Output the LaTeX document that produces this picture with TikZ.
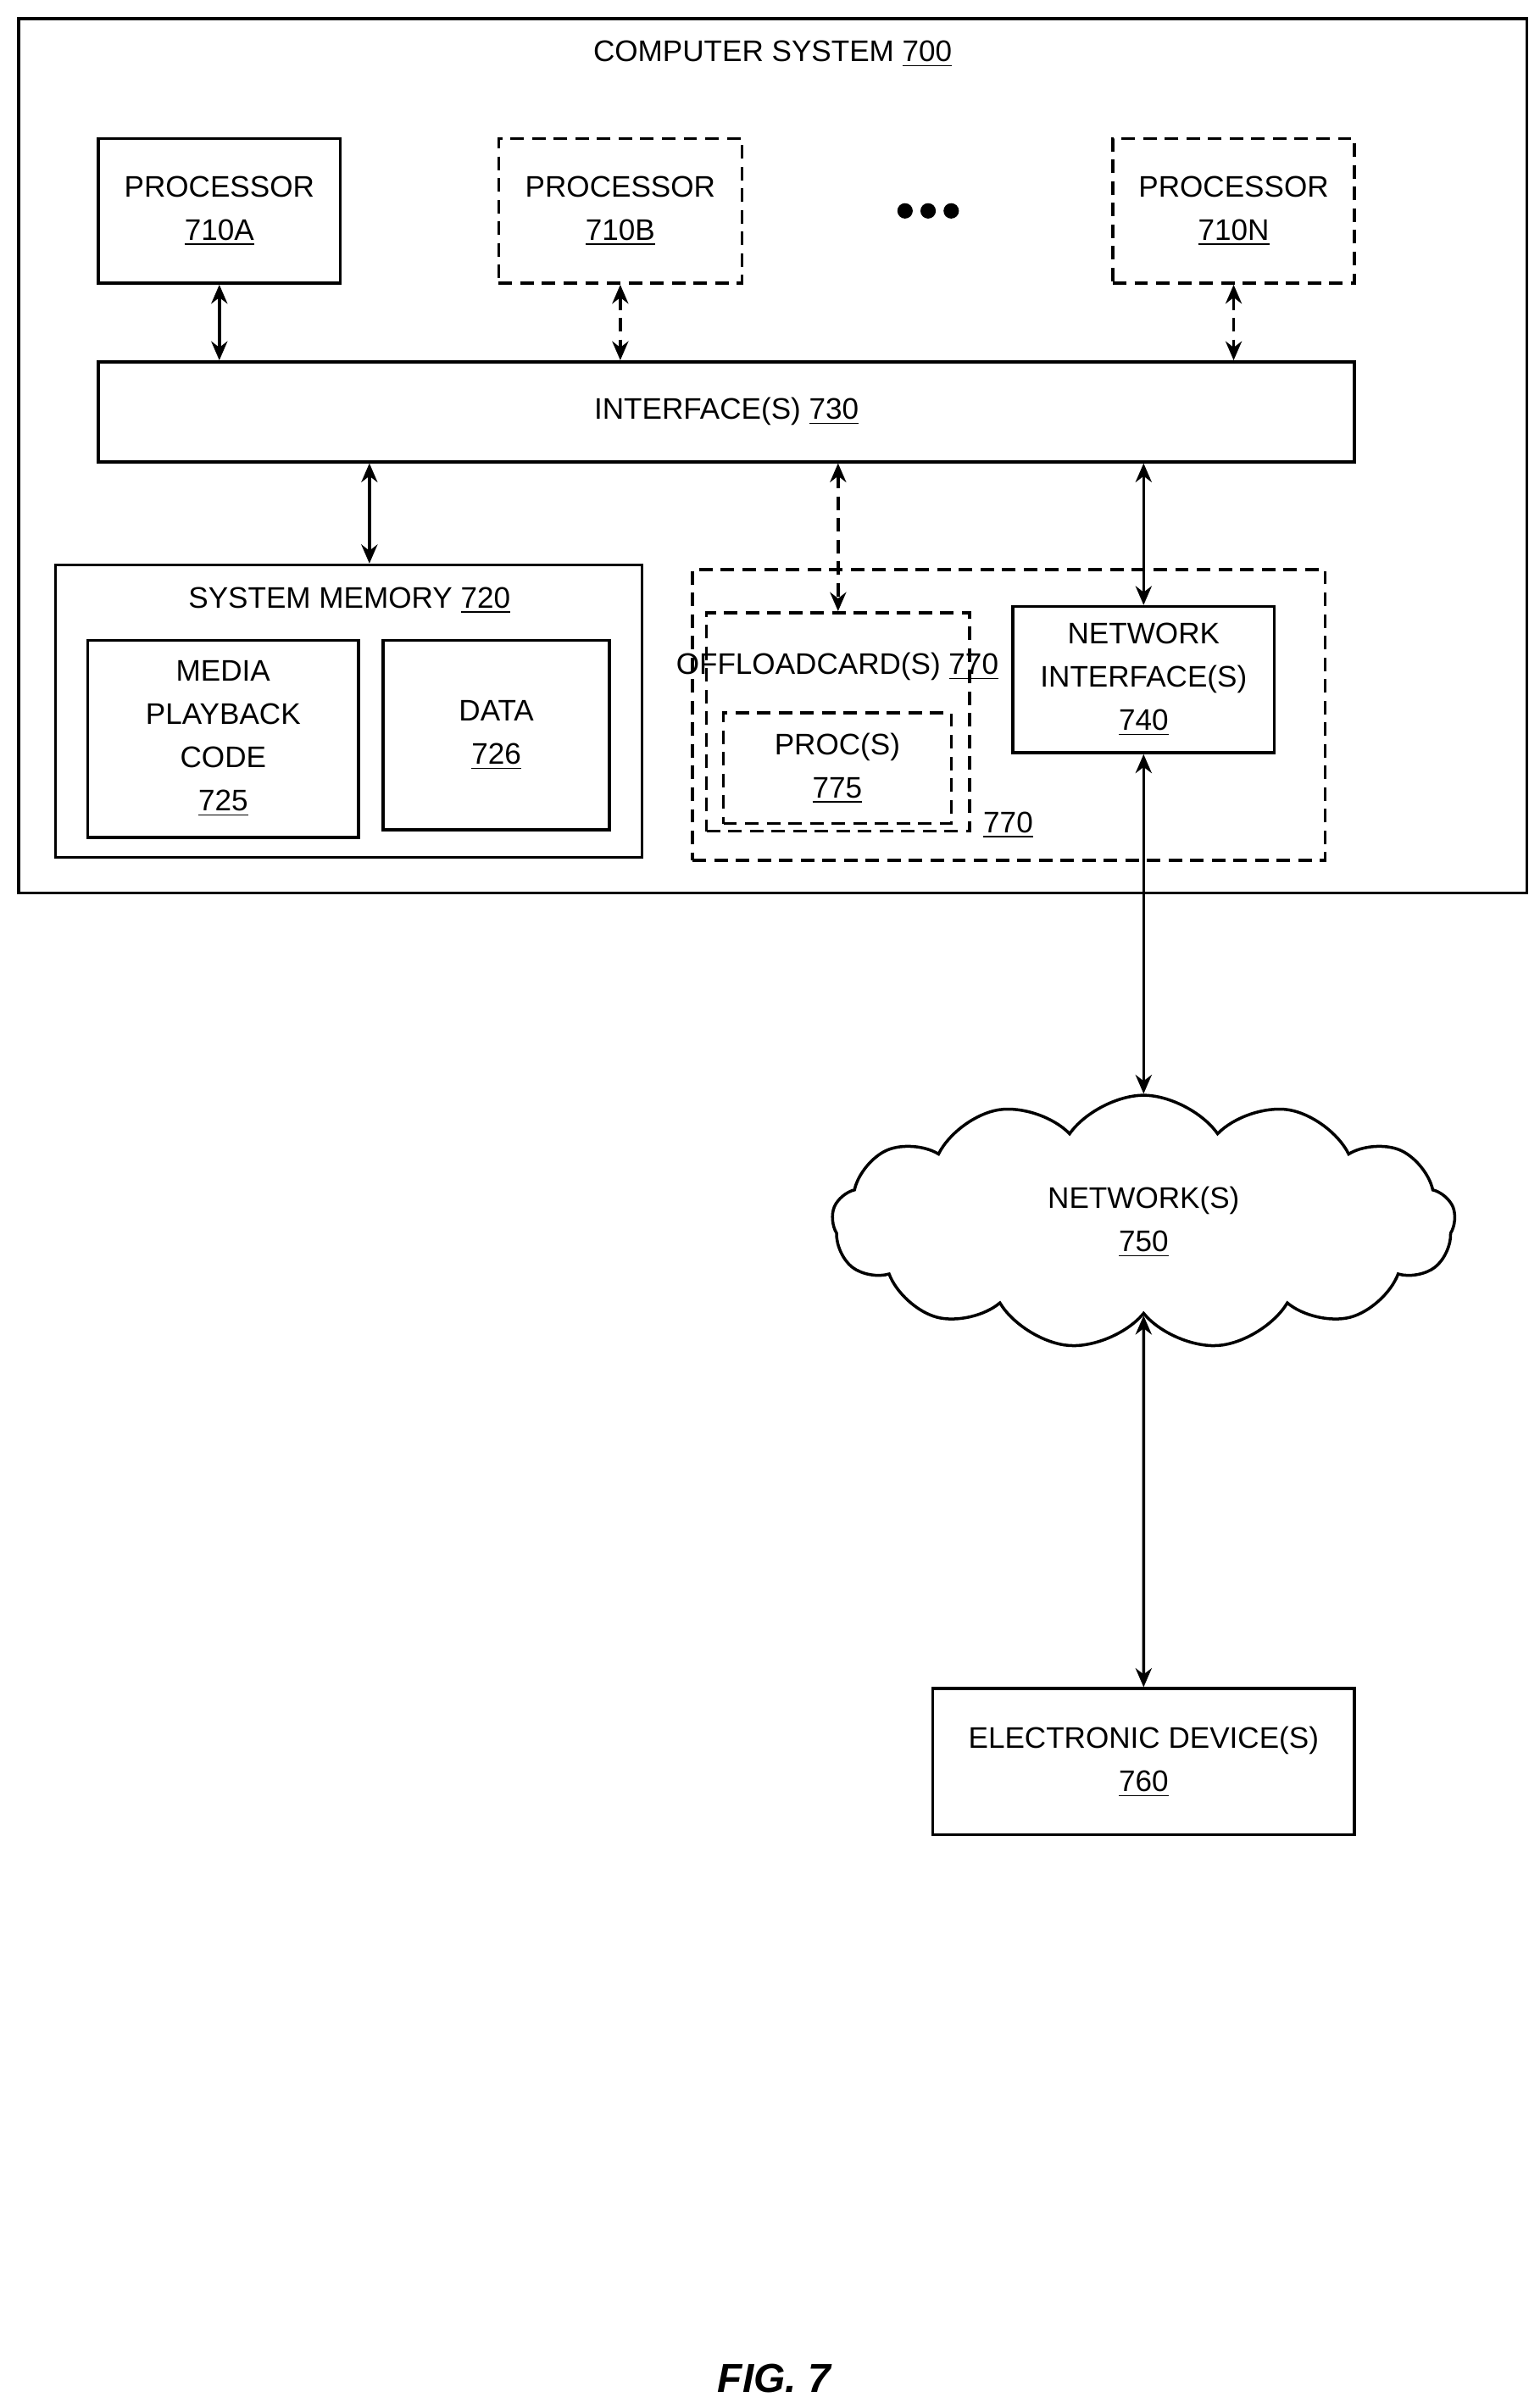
\documentclass[tikz,border=0pt]{standalone}
\usepackage{fontspec}
\setmainfont{Liberation Sans}
\usetikzlibrary{shapes.symbols,arrows.meta}
\begin{document}
\begin{tikzpicture}[x=0.02cm,y=-0.02cm,
  font=\fontsize{11}{16}\selectfont,
  bx/.style 2 args={draw,line width=1.1pt,minimum width=#1*0.02cm,minimum height=#2*0.02cm,inner sep=0pt,align=center},
  dbx/.style 2 args={bx={#1}{#2},dashed,dash pattern=on 5pt off 3pt},
  arr/.style={line width=1.1pt,{Stealth[length=7pt,width=6pt]}-{Stealth[length=7pt,width=6pt]}},
  darr/.style={arr,dash pattern=on 5pt off 3pt}]
\useasboundingbox (0,0) rectangle (1000,1561.1);
\node[bx={980}{568}] (cs) at (502,296) {};
\node (cst) at (502,35) {COMPUTER SYSTEM \underline{700}};
\node[bx={157}{94}] (pA) at (142.5,137) {PROCESSOR\\\underline{710A}};
\node[dbx={158}{94}] (pB) at (403,137) {PROCESSOR\\\underline{710B}};
\node[dbx={157}{94}] (pN) at (801.5,137) {PROCESSOR\\\underline{710N}};
\foreach \x/\n in {588/d1,603/d2,618/d3}{\node[circle,fill,inner sep=0pt,minimum size=0.2cm] (\n) at (\x,137) {};}
\node[bx={816}{65}] (ifc) at (472,267.5) {INTERFACE(S) \underline{730}};
\node[bx={381}{190}] (sm) at (226.5,462) {};
\node (smt) at (227,390) {SYSTEM MEMORY \underline{720}};
\node[bx={176}{128}] (mpc) at (145,480) {MEDIA\\PLAYBACK\\CODE\\\underline{725}};
\node[bx={147}{123}] (data) at (322.5,477.5) {DATA\\\underline{726}};
\node[dbx={411}{189}] (grp) at (655.5,464.5) {};
\node (grpl) at (655,536) {\underline{770}};
\node[dbx={171}{142}] (oc) at (544.5,469) {};
\node (oct) at (544,433) {OFFLOAD\\CARD(S) \underline{770}};
\node[dbx={148}{72}] (proc) at (544,499) {PROC(S)\\\underline{775}};
\node[bx={170}{95}] (ni) at (743,441.5) {NETWORK\\INTERFACE(S)\\\underline{740}};
\node[cloud,draw,line width=1.1pt,cloud puffs=13,cloud puff arc=110,aspect=2.4,minimum width=8.1cm,minimum height=3.3cm,align=center] (net) at (743,794) {NETWORK(S)\\\underline{750}};
\node[bx={274}{95}] (ed) at (743,1144.5) {ELECTRONIC DEVICE(S)\\\underline{760}};
\node[font=\fontsize{15}{18}\selectfont\bfseries\itshape] (fig) at (503,1545) {FIG. 7};
\draw[arr] (pA.south) -- (pA.south |- ifc.north);
\draw[darr] (pB.south) -- (pB.south |- ifc.north);
\draw[darr] (pN.south) -- (pN.south |- ifc.north);
\draw[arr] (ifc.south -| 240,0) -- (sm.north -| 240,0);
\draw[darr] (ifc.south -| oc.north) -- (oc.north);
\draw[arr] (ifc.south -| ni.north) -- (ni.north);
\draw[arr] (ni.south) -- (net.north);
\draw[arr] (net.south) -- (ed.north);
\end{tikzpicture}
\end{document}
